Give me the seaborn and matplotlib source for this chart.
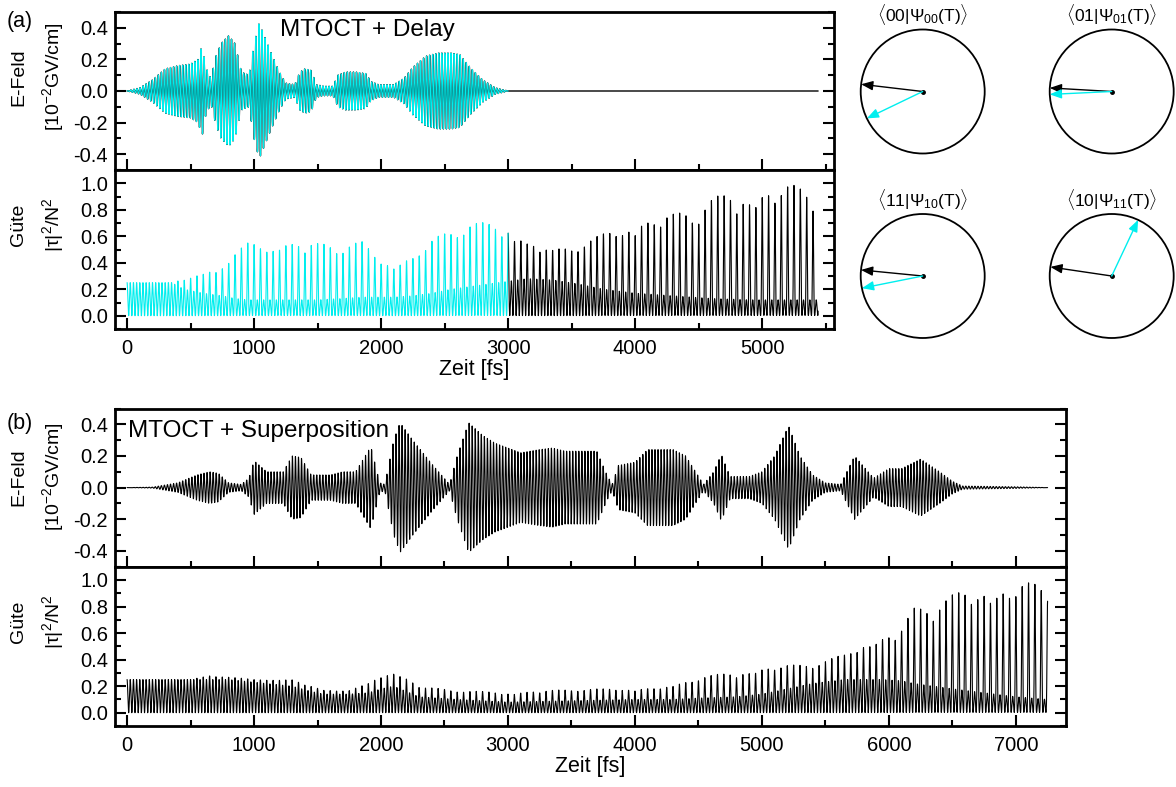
import numpy as np
import pandas as pd
import seaborn as sns
import matplotlib
matplotlib.use("Agg")
import matplotlib.pyplot as plt
from matplotlib.ticker import MultipleLocator
from matplotlib.patches import Circle

# ---------------- data ----------------
# Panel (a): E-field envelope knots (fs, 10^-2 GV/cm)
EA_T = [0, 100, 200, 300, 400, 500, 560, 590, 620, 660, 700, 740, 800, 850, 900, 960,
        1000, 1040, 1080, 1130, 1200, 1250, 1320, 1360, 1400, 1450, 1490, 1550, 1620,
        1660, 1720, 1800, 1880, 1920, 1980, 2100, 2180, 2250, 2350, 2450, 2550, 2620,
        2700, 2800, 2900, 3000]
EA_AMP = [0.0, 0.02, 0.07, 0.14, 0.16, 0.17, 0.20, 0.29, 0.15, 0.08, 0.22, 0.30, 0.35,
          0.30, 0.12, 0.10, 0.30, 0.43, 0.35, 0.25, 0.12, 0.05, 0.04, 0.12, 0.14, 0.13,
          0.04, 0.03, 0.03, 0.10, 0.12, 0.12, 0.11, 0.06, 0.04, 0.04, 0.08, 0.15, 0.22,
          0.24, 0.24, 0.23, 0.15, 0.07, 0.02, 0.0]
EA_END = 5440  # black (zero) field continues until here

# Panel (a): Guete upper (spike) and band envelopes
GA_T = [0, 350, 450, 600, 750, 850, 950, 1100, 1300, 1500, 1700, 1850, 1950, 2100,
        2250, 2400, 2550, 2700, 2850, 3000, 3150, 3350, 3550, 3750, 4000, 4300, 4600,
        4900, 5200, 5440]
GA_PEAK = [0.25, 0.25, 0.28, 0.32, 0.40, 0.48, 0.55, 0.56, 0.56, 0.56, 0.57, 0.56,
           0.46, 0.40, 0.45, 0.58, 0.68, 0.71, 0.70, 0.68, 0.56, 0.50, 0.55, 0.62,
           0.72, 0.78, 0.90, 0.95, 1.00, 1.00]
GA_BAND = [0.25, 0.25, 0.20, 0.17, 0.15, 0.13, 0.12, 0.12, 0.12, 0.12, 0.13, 0.14,
           0.14, 0.14, 0.15, 0.17, 0.20, 0.22, 0.24, 0.26, 0.28, 0.27, 0.24, 0.20,
           0.17, 0.15, 0.13, 0.12, 0.12, 0.12]
GA_SPLIT = 3000  # cyan before, black after

# Panel (b): E-field envelope knots
EB_T = [0, 200, 400, 550, 650, 720, 800, 900, 960, 1000, 1100, 1230, 1300, 1370, 1450,
        1600, 1700, 1800, 1920, 1990, 2030, 2100, 2150, 2250, 2400, 2540, 2600, 2690,
        2800, 2900, 3100, 3250, 3350, 3450, 3550, 3700, 3780, 3820, 3870, 4000, 4100,
        4300, 4400, 4540, 4620, 4680, 4750, 4900, 5000, 5100, 5210, 5300, 5400, 5500,
        5620, 5730, 5880, 6000, 6100, 6250, 6400, 6500, 6580, 7000, 7250]
EB_AMP = [0.0, 0.003, 0.03, 0.08, 0.10, 0.09, 0.03, 0.02, 0.06, 0.17, 0.10, 0.10, 0.20,
          0.19, 0.08, 0.08, 0.10, 0.10, 0.26, 0.03, 0.02, 0.30, 0.41, 0.30, 0.15, 0.02,
          0.20, 0.41, 0.33, 0.28, 0.22, 0.24, 0.25, 0.23, 0.23, 0.23, 0.08, 0.02, 0.14,
          0.16, 0.24, 0.24, 0.20, 0.02, 0.10, 0.21, 0.07, 0.07, 0.10, 0.20, 0.39, 0.20,
          0.08, 0.03, 0.02, 0.20, 0.06, 0.12, 0.12, 0.18, 0.10, 0.04, 0.01, 0.005, 0.0]

# Panel (b): Guete envelopes
GB_T = [0, 500, 650, 800, 1000, 1300, 1450, 1550, 1750, 1900, 2000, 2100, 2200, 2300,
        2600, 3000, 3500, 4000, 4300, 4500, 4800, 5000, 5200, 5400, 5650, 5800, 5950,
        6100, 6200, 6350, 6500, 6750, 7000, 7250]
GB_PEAK = [0.25, 0.25, 0.28, 0.27, 0.25, 0.25, 0.20, 0.17, 0.17, 0.22, 0.28, 0.31,
           0.26, 0.20, 0.17, 0.15, 0.18, 0.18, 0.20, 0.28, 0.30, 0.34, 0.36, 0.37,
           0.44, 0.52, 0.58, 0.64, 0.80, 0.86, 0.90, 0.96, 0.98, 1.00]
GB_BAND = [0.25, 0.25, 0.25, 0.25, 0.23, 0.20, 0.16, 0.14, 0.14, 0.15, 0.18, 0.20,
           0.16, 0.12, 0.10, 0.08, 0.09, 0.10, 0.10, 0.11, 0.12, 0.14, 0.18, 0.22,
           0.25, 0.25, 0.25, 0.24, 0.22, 0.20, 0.18, 0.15, 0.12, 0.10]

CARRIER_FS = 24.0     # laser carrier period
G_FAST_FS = 25.0      # fast oscillation of the fidelity
G_SPIKE_FS = 50.0     # spike recurrence of the fidelity
G_MOD_FS = (310.0, 470.0)  # slow modulation of the spike heights

# Phase diagrams: overlap labels and arrow angles (deg) / magnitudes
PHASE_LABELS = [r"$\langle 00|\Psi_{00}(\mathrm{T})\rangle$",
                r"$\langle 01|\Psi_{01}(\mathrm{T})\rangle$",
                r"$\langle 11|\Psi_{10}(\mathrm{T})\rangle$",
                r"$\langle 10|\Psi_{11}(\mathrm{T})\rangle$"]
BLACK_ANG = [173.3, 176.7, 174.4, 171.6]
CYAN_ANG = [205.7, 182.7, 191.3, 64.8]
BLACK_MAG = [1.0, 1.0, 1.0, 1.0]
CYAN_MAG = [1.0, 1.0, 1.0, 1.0]

CYAN = "#00EEEE"

# ---------------- signals ----------------
def efield(t, kt, ka):
    env = np.interp(t, kt, ka, left=0.0, right=0.0)
    return env * np.sin(2 * np.pi * t / CARRIER_FS)


def guete(t, kt, kp, kb):
    p = np.interp(t, kt, kp)
    b = np.interp(t, kt, kb)
    fast = 0.5 * (1 + np.cos(2 * np.pi * t / G_FAST_FS))
    spike = (0.5 * (1 + np.cos(2 * np.pi * t / G_SPIKE_FS))) ** 8
    mod = 0.72 + 0.28 * np.abs(np.cos(np.pi * t / G_MOD_FS[0]) *
                               np.cos(np.pi * t / G_MOD_FS[1])) ** 0.4
    return b * fast + (p - b) * spike * mod


tA = np.arange(0, EA_END + 0.25, 0.5)
tB = np.arange(0, EB_T[-1] + 0.25, 0.5)
dfEA = pd.DataFrame({"t": tA, "E": efield(tA, EA_T, EA_AMP)})
dfGA = pd.DataFrame({"t": tA, "G": guete(tA, GA_T, GA_PEAK, GA_BAND)})
dfEB = pd.DataFrame({"t": tB, "E": efield(tB, EB_T, EB_AMP)})
dfGB = pd.DataFrame({"t": tB, "G": guete(tB, GB_T, GB_PEAK, GB_BAND)})

# ---------------- style ----------------
sns.set_theme(style="ticks")
plt.rcParams["font.family"] = ["Liberation Sans", "DejaVu Sans"]
plt.rcParams["mathtext.fontset"] = "custom"
plt.rcParams["mathtext.rm"] = "Liberation Sans"
plt.rcParams["mathtext.it"] = "Liberation Sans:italic"
plt.rcParams["mathtext.bf"] = "Liberation Sans:bold"
plt.rcParams["axes.unicode_minus"] = False
for key in ["text.color", "axes.labelcolor", "xtick.color", "ytick.color",
            "axes.edgecolor"]:
    plt.rcParams[key] = "black"

W, H = 1176, 787
fig = plt.figure(figsize=(W / 100, H / 100), dpi=100)


def add_ax(l, t, r, b):
    return fig.add_axes([l / W, 1 - b / H, (r - l) / W, (b - t) / H])


def fx(x):
    return x / W


def fy(y):
    return 1 - y / H


def style(ax, xlim, ylim, showx):
    ax.set_xlim(xlim)
    ax.set_ylim(ylim)
    ax.xaxis.set_major_locator(MultipleLocator(1000))
    ax.xaxis.set_minor_locator(MultipleLocator(500))
    ax.yaxis.set_major_locator(MultipleLocator(0.2))
    ax.yaxis.set_minor_locator(MultipleLocator(0.1))
    ax.yaxis.set_major_formatter(matplotlib.ticker.FormatStrFormatter("%.1f"))
    ax.tick_params(which="both", direction="in", top=False, right=True,
                   bottom=True, left=True, width=1.5, labelsize=14.5, pad=5,
                   colors="black")
    ax.tick_params(which="major", length=8)
    ax.tick_params(which="minor", length=4.5)
    ax.tick_params(axis="x", pad=7)
    if not showx:
        ax.tick_params(axis="x", labelbottom=False)
    for s in ax.spines.values():
        s.set_linewidth(2)
        s.set_color("black")
    ax.set_xlabel("")
    ax.set_ylabel("")


# ---------------- panel (a) ----------------
axEA = add_ax(115, 12, 834, 170)
axGA = add_ax(115, 170, 834, 329)
sns.lineplot(data=dfEA, x="t", y="E", ax=axEA, color="black", linewidth=1.0,
             estimator=None, sort=False)
cutE = dfEA[dfEA.t <= GA_SPLIT]
sns.lineplot(data=cutE, x="t", y="E", ax=axEA, color=CYAN, linewidth=0.8,
             estimator=None, sort=False)
sns.lineplot(data=dfGA[dfGA.t >= GA_SPLIT], x="t", y="G", ax=axGA, color="black",
             linewidth=0.8, estimator=None, sort=False)
sns.lineplot(data=dfGA[dfGA.t <= GA_SPLIT], x="t", y="G", ax=axGA, color=CYAN,
             linewidth=0.8, estimator=None, sort=False)
style(axEA, (-95, 5565), (-0.5, 0.5), False)
style(axGA, (-95, 5565), (-0.1, 1.1), True)
axGA.set_xlabel("Zeit [fs]", fontsize=15.5, labelpad=1)
axEA.text((280 - 115) / 719, 0.848, "MTOCT + Delay", transform=axEA.transAxes,
          fontsize=17.5, ha="left", va="baseline")

# ---------------- panel (b) ----------------
axEB = add_ax(115, 408.5, 1066, 566.7)
axGB = add_ax(115, 566.7, 1066, 726)
sns.lineplot(data=dfEB, x="t", y="E", ax=axEB, color="black", linewidth=0.8,
             estimator=None, sort=False)
sns.lineplot(data=dfGB, x="t", y="G", ax=axGB, color="black", linewidth=0.8,
             estimator=None, sort=False)
style(axEB, (-95, 7395), (-0.5, 0.5), False)
style(axGB, (-95, 7395), (-0.1, 1.1), True)
axGB.set_xlabel("Zeit [fs]", fontsize=15.5, labelpad=1)
axEB.text((128 - 115) / 951, 0.822, "MTOCT + Superposition", transform=axEB.transAxes,
          fontsize=17.5, ha="left", va="baseline")

# ---------------- labels ----------------
LAB = 14
for yc_e, yc_g in [(77, 225), (477, 622)]:
    fig.text(fx(19), fy(yc_e), "E-Feld", rotation=90, ha="center", va="center", fontsize=LAB)
    fig.text(fx(53), fy(yc_e), r"[10$^{-2}$GV/cm]", rotation=90, ha="center", va="center",
             fontsize=LAB)
    fig.text(fx(19), fy(yc_g), "Güte", rotation=90, ha="center", va="center", fontsize=LAB)
    fig.text(fx(53), fy(yc_g), r"|τ|$^2$/N$^2$", rotation=90, ha="center", va="center",
             fontsize=LAB)
fig.text(fx(7), fy(21), "(a)", ha="left", va="center", fontsize=15.5)
fig.text(fx(7), fy(424), "(b)", ha="left", va="center", fontsize=15.5)

# ---------------- phase circles ----------------
R = 62.0
LIM = 1.2
centers = [(922.7, 91.5), (1111.7, 91.5), (922.7, 276.0), (1111.7, 276.0)]
for i, (cx, cy) in enumerate(centers):
    half = R * LIM
    ax = add_ax(cx - half, cy - half, cx + half, cy + half)
    ax.set_xlim(-LIM, LIM)
    ax.set_ylim(-LIM, LIM)
    ax.set_aspect("equal")
    ax.axis("off")
    ax.add_patch(Circle((0, 0), 1.0, fill=False, color="black", lw=1.3))
    for ang, mag, col in [(BLACK_ANG[i], BLACK_MAG[i], "black"),
                          (CYAN_ANG[i], CYAN_MAG[i], CYAN)]:
        a = np.deg2rad(ang)
        ax.annotate("", xy=(mag * np.cos(a), mag * np.sin(a)), xytext=(0, 0),
                    arrowprops=dict(arrowstyle="-|>,head_length=0.5,head_width=0.2",
                                    color=col, lw=1.0, shrinkA=0, shrinkB=0,
                                    mutation_scale=14))
    ax.plot([0], [0], "o", color="black", ms=2.5)
    ax.text(0, 1.24, PHASE_LABELS[i], ha="center", va="center", fontsize=12.5,
            clip_on=False)

fig.savefig("out.png", dpi=100)
